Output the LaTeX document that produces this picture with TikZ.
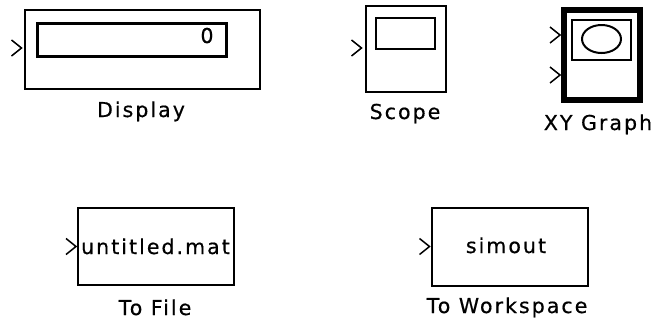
\documentclass[tikz,border=0pt]{standalone}
\usepackage{fontspec}
\newfontfamily\blockfont[LetterSpace=10,FakeBold=0.6]{DejaVu Sans}
\usetikzlibrary{positioning,shapes.geometric}

\tikzset{
  blk/.style={rectangle,draw,line width=2pt,inner sep=0pt},
  lbl/.style={font=\blockfont\fontsize{20.5}{24}\selectfont,inner sep=0pt,anchor=base},
  port/.style={line width=1.5pt},
}
% input port chevron, #1 = tip
\newcommand{\inport}[1]{\draw[port] (#1) ++(-10,-8) -- ++(10,8) -- ++(-10,8);}

\begin{document}
\begin{tikzpicture}[x=1pt,y=-1pt]
\fill[white] (0,0) rectangle (660,322);
\useasboundingbox (0,0) rectangle (660,322);

% Display
\node[blk,minimum width=235pt,minimum height=79pt] (disp) at (142,49) {};
\node[blk,line width=2.5pt,minimum width=189pt,minimum height=33pt] (dispwin) at (132,40) {};
\node[lbl] (dispval) at (207,43) {0};
\node[lbl] (displbl) at (141,117) {Display};
\inport{[xshift=-2pt,yshift=1pt]disp.west}

% Scope
\node[blk,minimum width=80pt,minimum height=86pt] (scope) at (405.5,48.5) {};
\node[blk,minimum width=59pt,minimum height=31pt] (scopewin) at (405,33) {};
\node[lbl] (scopelbl) at (405,119) {Scope};
\inport{[xshift=-3pt,yshift=0.5pt]scope.west}

% XY Graph
\node[blk,line width=6pt,minimum width=76pt,minimum height=90pt] (xy) at (602,55) {};
\node[blk,minimum width=59pt,minimum height=40pt] (xywin) at (601.5,40) {};
\node[draw,ellipse,line width=2pt,inner sep=0pt,minimum width=39pt,minimum height=28pt] (xycurve) at (601.5,39) {};
\node[lbl] (xylbl) at (598,130) {XY Graph};
\inport{[xshift=-1pt,yshift=20pt]xy.west}
\inport{[xshift=-1pt,yshift=-20pt]xy.west}

% To File
\node[blk,minimum width=156pt,minimum height=77pt] (tofile) at (156,246.5) {};
\node[lbl] (filename) at (155.5,254) {untitled.mat};
\node[lbl] (filelbl) at (155,315) {To File};
\inport{[xshift=-1pt]tofile.west}

% To Workspace
\node[blk,minimum width=156pt,minimum height=78pt] (tows) at (509.5,246.5) {};
\node[lbl] (varname) at (506,253) {simout};
\node[lbl] (wslbl) at (507,313) {To Workspace};
\inport{[xshift=-1pt]tows.west}
\end{tikzpicture}
\end{document}
